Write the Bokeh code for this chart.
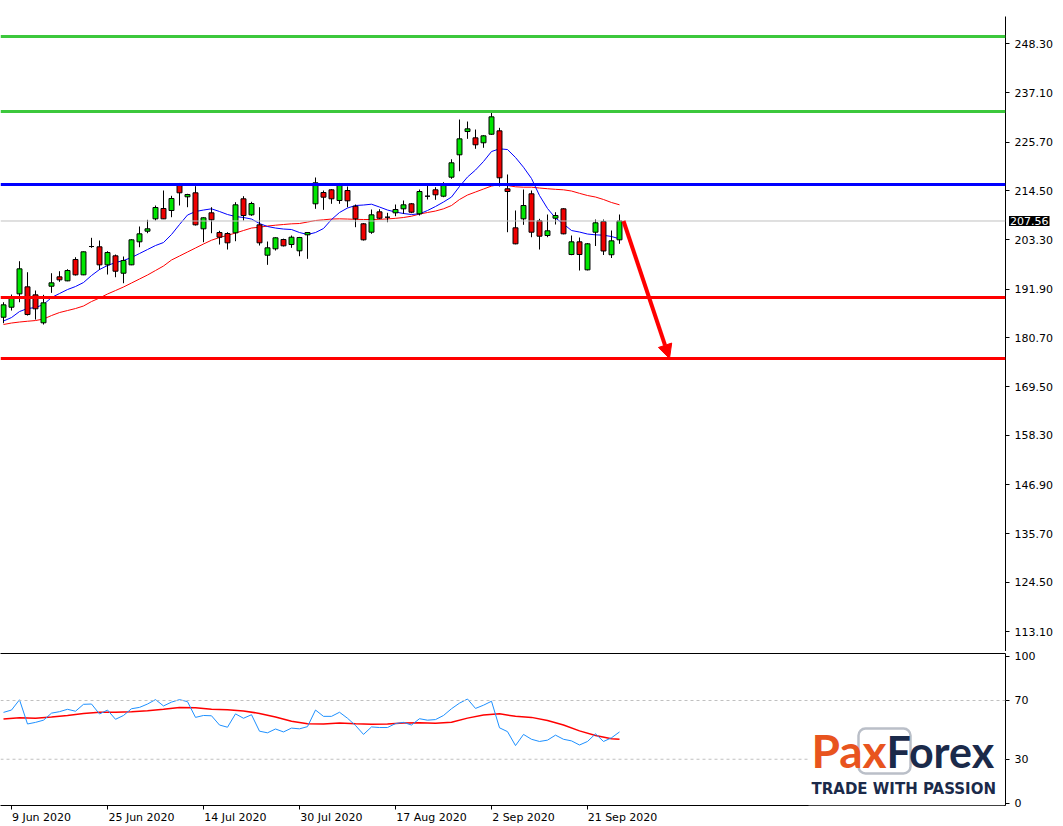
from bokeh.plotting import figure
from bokeh.models import (Range1d, FixedTicker, LinearAxis, Span, Label, BoxAnnotation,
                          PrintfTickFormatter, Arrow, NormalHead, ColumnDataSource)
from bokeh.layouts import column
from bokeh.embed import file_html
from bokeh.resources import INLINE

# ---------------- data (MSFT daily, 8 Jun - 25 Sep 2020) ----------------
dates = ["8 Jun", "9 Jun", "10 Jun", "11 Jun", "12 Jun", "15 Jun", "16 Jun", "17 Jun", "18 Jun", "19 Jun",
         "22 Jun", "23 Jun", "24 Jun", "25 Jun", "26 Jun", "29 Jun", "30 Jun", "1 Jul", "2 Jul", "6 Jul",
         "7 Jul", "8 Jul", "9 Jul", "10 Jul", "13 Jul", "14 Jul", "15 Jul", "16 Jul", "17 Jul", "20 Jul",
         "21 Jul", "22 Jul", "23 Jul", "24 Jul", "27 Jul", "28 Jul", "29 Jul", "30 Jul", "31 Jul", "3 Aug",
         "4 Aug", "5 Aug", "6 Aug", "7 Aug", "10 Aug", "11 Aug", "12 Aug", "13 Aug", "14 Aug", "17 Aug",
         "18 Aug", "19 Aug", "20 Aug", "21 Aug", "24 Aug", "25 Aug", "26 Aug", "27 Aug", "28 Aug", "31 Aug",
         "1 Sep", "2 Sep", "3 Sep", "4 Sep", "8 Sep", "9 Sep", "10 Sep", "11 Sep", "14 Sep", "15 Sep",
         "16 Sep", "17 Sep", "18 Sep", "21 Sep", "22 Sep", "23 Sep", "24 Sep", "25 Sep"]

opens = [185.43, 187.73, 190.81, 192.42, 190.58, 184.15, 192.56, 194.72, 193.80, 198.70,
         195.18, 201.69, 201.62, 197.48, 199.55, 195.55, 197.48, 202.77, 205.21, 208.06,
         210.43, 209.97, 216.11, 213.12, 214.04, 205.76, 209.44, 204.91, 204.68, 204.84,
         212.66, 208.98, 206.68, 199.69, 201.16, 203.30, 202.15, 200.70, 204.38, 211.51,
         214.11, 214.73, 212.27, 214.57, 210.96, 206.91, 204.98, 209.67, 208.43, 209.44,
         210.36, 211.51, 209.21, 213.26, 214.73, 213.26, 217.63, 222.78, 228.13, 226.68,
         225.54, 227.51, 228.29, 214.96, 205.99, 208.06, 213.81, 207.60, 204.22, 208.20,
         210.36, 199.85, 202.77, 196.33, 204.98, 207.44, 199.80, 203.23]
highs = [188.88, 190.65, 198.31, 195.78, 191.57, 190.58, 195.55, 196.01, 196.47, 199.23,
         200.55, 203.69, 203.07, 200.61, 199.85, 199.39, 203.40, 206.29, 207.83, 211.12,
         214.57, 213.35, 216.30, 213.81, 215.56, 208.40, 210.73, 205.30, 204.98, 211.88,
         213.26, 211.97, 210.73, 202.84, 203.80, 203.50, 204.22, 203.90, 205.00, 217.56,
         214.57, 214.90, 216.30, 215.49, 211.35, 207.10, 210.20, 210.27, 209.44, 211.35,
         212.27, 211.70, 214.80, 216.11, 215.33, 216.48, 221.76, 230.89, 230.43, 228.59,
         227.30, 232.73, 228.98, 218.25, 209.97, 214.80, 214.57, 208.06, 209.05, 209.58,
         210.50, 204.22, 203.76, 202.50, 207.90, 207.90, 205.37, 209.05]
lows = [184.05, 186.97, 188.88, 185.82, 184.90, 183.75, 191.04, 193.57, 193.71, 195.02,
        195.10, 201.39, 196.33, 195.25, 194.63, 193.25, 197.40, 201.53, 204.75, 207.67,
        208.00, 208.43, 211.12, 210.73, 206.52, 202.68, 204.75, 202.15, 201.00, 202.91,
        207.67, 208.75, 201.92, 197.48, 200.77, 201.70, 201.39, 199.46, 198.86, 210.36,
        210.13, 211.51, 211.51, 210.73, 206.13, 203.07, 204.61, 207.97, 207.28, 208.66,
        209.21, 209.35, 208.82, 212.50, 212.43, 213.03, 217.26, 219.00, 226.45, 224.16,
        224.39, 227.37, 215.49, 204.98, 202.20, 206.68, 203.83, 201.00, 203.83, 206.75,
        204.50, 199.70, 196.17, 196.20, 201.81, 199.74, 199.05, 202.31]
closes = [188.28, 189.89, 196.56, 186.05, 187.37, 188.74, 193.34, 194.03, 196.17, 195.18,
          200.47, 201.69, 197.48, 200.31, 196.01, 198.47, 203.23, 204.61, 205.76, 210.66,
          208.06, 212.73, 214.04, 213.65, 206.68, 208.29, 207.83, 203.83, 202.54, 211.28,
          208.82, 211.58, 202.54, 201.39, 203.69, 201.85, 203.83, 203.76, 204.91, 216.34,
          213.03, 212.66, 216.11, 212.20, 208.06, 203.23, 208.98, 208.20, 208.43, 210.20,
          211.28, 209.58, 214.34, 213.26, 213.58, 216.11, 220.94, 226.45, 228.75, 225.08,
          227.14, 231.51, 217.49, 214.34, 202.31, 211.12, 204.98, 204.06, 205.30, 208.82,
          204.61, 202.77, 199.85, 202.31, 207.14, 200.66, 203.00, 207.56]

ma_fast = [184.56, 185.36, 186.74, 187.43, 187.66, 188.35, 189.96, 190.88, 191.80, 192.49,
           193.41, 195.02, 196.40, 197.32, 198.01, 198.47, 199.16, 200.08, 201.00, 201.92,
           202.61, 204.45, 206.75, 208.93, 209.74, 210.08, 210.36, 209.74, 209.05, 208.59,
           208.36, 208.01, 206.98, 206.29, 205.94, 205.71, 205.60, 204.91, 204.45, 204.91,
           205.83, 207.90, 209.51, 210.54, 211.12, 211.23, 211.42, 210.77, 210.08, 209.62,
           209.28, 209.05, 209.21, 209.97, 210.89, 211.92, 213.07, 215.49, 217.67, 219.28,
           221.24, 223.53, 224.16, 223.99, 222.16, 219.92, 217.33, 213.42, 210.43, 208.24,
           206.86, 205.37, 205.02, 204.56, 204.38, 204.29, 203.99, 203.46]
ma_slow = [183.76, 184.10, 184.33, 184.51, 184.67, 185.02, 185.82, 186.51, 186.97, 187.43,
           188.01, 189.04, 189.85, 190.77, 191.57, 192.38, 193.30, 194.22, 195.14, 196.17,
           197.21, 198.59, 199.51, 200.43, 201.35, 202.27, 203.14, 203.76, 204.27, 204.79,
           205.37, 205.94, 206.13, 206.40, 206.59, 206.75, 206.91, 206.98, 207.32, 207.67,
           207.83, 208.01, 208.06, 208.01, 207.94, 207.90, 207.90, 207.94, 208.04, 208.17,
           208.36, 208.66, 209.16, 209.51, 209.85, 210.36, 211.12, 212.50, 213.53, 214.22,
           214.91, 215.60, 215.95, 215.72, 215.42, 215.33, 215.33, 215.14, 214.98, 214.84,
           214.73, 214.45, 213.92, 213.42, 213.07, 212.50, 211.81, 211.28]

rsi = [61.9, 63.5, 70.5, 54.0, 55.1, 56.6, 61.4, 62.4, 64.0, 62.7,
       67.4, 67.6, 60.8, 63.5, 57.2, 59.8, 64.4, 65.3, 67.6, 70.6,
       66.3, 68.9, 70.6, 69.2, 58.5, 59.8, 59.6, 53.3, 51.8, 60.9,
       57.9, 60.3, 49.1, 48.0, 50.6, 48.6, 51.2, 50.7, 52.2, 63.5,
       59.2, 59.2, 62.0, 57.9, 53.0, 46.9, 52.0, 51.6, 51.6, 54.3,
       55.1, 53.3, 57.6, 56.6, 57.0, 59.8, 64.4, 68.2, 71.0, 64.6,
       66.8, 69.5, 51.4, 48.8, 39.3, 46.9, 43.6, 42.1, 43.0, 46.4,
       43.6, 42.5, 39.7, 42.1, 47.3, 42.1, 44.6, 48.6]
rsi_ma_bars = [0, 2, 4, 6, 8, 10, 12, 14, 16, 18, 20, 22, 24, 26, 28, 30, 32, 34, 36, 38,
               40, 42, 44, 46, 48, 50, 52, 54, 56, 58, 60, 62, 64, 66, 68, 70, 72, 74, 76, 77]
rsi_ma = [57.4, 58.3, 57.9, 58.7, 59.8, 61.1, 62.0, 62.0, 62.4, 63.1,
          64.0, 65.2, 65.0, 64.1, 63.7, 62.9, 61.2, 58.8, 55.9, 54.1,
          54.0, 54.6, 54.2, 53.9, 54.0, 54.6, 54.8, 54.5, 55.2, 58.0,
          60.1, 60.9, 59.2, 58.5, 56.4, 53.3, 49.3, 46.2, 43.9, 43.6]

resistance_levels = [249.98, 232.73]
pivot_levels = [215.95]
support_levels = [189.96, 175.93]
current_price = 207.56
rsi_levels = [70, 30]

price_ticks = [248.30, 237.10, 225.70, 214.50, 203.30, 191.90, 180.70, 169.50,
               158.30, 146.90, 135.70, 124.50, 113.10]
rsi_ticks = [0, 30, 70, 100]
date_tick_bars = [1, 13, 25, 37, 49, 61, 73]
date_tick_labels = ["9 Jun 2020", "25 Jun 2020", "14 Jul 2020", "30 Jul 2020",
                    "17 Aug 2020", "2 Sep 2020", "21 Sep 2020"]

# forecast arrow: from last close towards the lower support
arrow_bars = [77.5, 83.25]
arrow_prices = [closes[-1], support_levels[1]]

# ---------------- styling ----------------
FONT = "DejaVu Sans"
BULL = "#00E600"
BEAR = "#F00000"
W = 1063
RIGHT = 58
TOP = 16
BAR_PX = 8.0
X_START, X_END = -0.375, 125.25

n = len(closes)
xs = list(range(n))
src = ColumnDataSource(dict(
    x=xs, o=opens, h=highs, l=lows, c=closes,
    top=[max(a, b) for a, b in zip(opens, closes)],
    bottom=[min(a, b) for a, b in zip(opens, closes)],
    color=[BULL if c >= o else BEAR for o, c in zip(opens, closes)],
))

x_range = Range1d(X_START, X_END)


def right_axis(ticks):
    ax = LinearAxis(ticker=FixedTicker(ticks=ticks))
    ax.axis_line_color = "black"
    ax.major_tick_out = 4
    ax.major_tick_in = 0
    ax.minor_tick_out = 0
    ax.minor_tick_in = 0
    ax.major_label_standoff = 5
    ax.major_label_text_font = FONT
    ax.major_label_text_font_size = "11px"
    ax.major_label_text_color = "black"
    return ax


def border_axis():
    return LinearAxis(ticker=FixedTicker(ticks=[]), major_tick_out=0, major_tick_in=0,
                      minor_tick_out=0, minor_tick_in=0, major_label_standoff=0,
                      major_label_text_font_size="0px", axis_line_color="black")


# ---------------- price panel ----------------
p = figure(width=W, height=651, x_range=x_range, y_range=Range1d(108.57, 254.58),
           output_backend="svg", toolbar_location=None,
           x_axis_location=None, y_axis_location=None,
           min_border_left=0, min_border_right=RIGHT, min_border_top=TOP, min_border_bottom=0,
           background_fill_color="white", border_fill_color="white", outline_line_color=None)
p.xgrid.visible = False
p.ygrid.visible = False
pax = right_axis(price_ticks)
pax.formatter = PrintfTickFormatter(format="%.2f")
p.add_layout(pax, "right")
p.add_layout(border_axis(), "below")

p.add_layout(Span(location=current_price, dimension="width", line_color="#C0C0C0", line_width=1))
for lv in resistance_levels:
    p.add_layout(Span(location=lv, dimension="width", line_color="#3CC83C", line_width=3))
for lv in pivot_levels:
    p.add_layout(Span(location=lv, dimension="width", line_color="#0000FF", line_width=3))
for lv in support_levels:
    p.add_layout(Span(location=lv, dimension="width", line_color="#FF0000", line_width=3))

p.line(xs, ma_slow, line_color="#FF0000", line_width=1)
p.line(xs, ma_fast, line_color="#0000FF", line_width=1)
p.segment(x0="x", y0="l", x1="x", y1="h", source=src, line_color="black", line_width=1)
p.vbar(x="x", width=0.62, top="top", bottom="bottom", source=src,
       fill_color="color", line_color="black", line_width=1)

p.add_layout(Arrow(end=NormalHead(size=14, fill_color="#FF0000", line_color="#FF0000"),
                   x_start=arrow_bars[0], y_start=arrow_prices[0],
                   x_end=arrow_bars[1], y_end=arrow_prices[1],
                   line_color="#FF0000", line_width=4))

# current price tag on the price scale (kept in a side panel so it is not clipped)
p.add_layout(Label(x=X_END + 3.5 / BAR_PX, y=current_price, text="%.2f" % current_price,
                   text_color="white", background_fill_color="black", text_font=FONT,
                   text_font_size="11px", text_baseline="middle", text_align="left",
                   padding=1), "above")

# ---------------- RSI panel ----------------
r = figure(width=W, height=175, x_range=x_range, y_range=Range1d(-1.5, 102),
           output_backend="svg", toolbar_location=None,
           x_axis_location=None, y_axis_location=None,
           min_border_left=0, min_border_right=RIGHT, min_border_top=2, min_border_bottom=20,
           background_fill_color="white", border_fill_color="white", outline_line_color=None)
r.xgrid.visible = False
r.ygrid.visible = False
r.add_layout(right_axis(rsi_ticks), "right")
r.add_layout(border_axis(), "above")

# date labels sit to the right of their tick, as in the terminal
CW = {"0": .636, "1": .636, "2": .636, "3": .636, "4": .636, "5": .636, "6": .636, "7": .636,
      "8": .636, "9": .636, " ": .318, "J": .295, "u": .634, "n": .634, "l": .278, "A": .684,
      "g": .635, "S": .635, "e": .615, "p": .635}
label_pos = []
for b, t in zip(date_tick_bars, date_tick_labels):
    wpx = sum(CW.get(ch, .6) for ch in t) * 11
    label_pos.append(b + round((0.5 + wpx / 2) / BAR_PX * 8) / 8)
xax = LinearAxis(ticker=FixedTicker(ticks=label_pos, minor_ticks=date_tick_bars))
xax.major_label_overrides = {pos: t for pos, t in zip(label_pos, date_tick_labels)}
xax.axis_line_color = "black"
xax.major_tick_out = 0
xax.major_tick_in = 0
xax.minor_tick_out = 4
xax.minor_tick_in = 0
xax.minor_tick_line_color = "black"
xax.major_label_standoff = 1
xax.major_label_text_font = FONT
xax.major_label_text_font_size = "11px"
xax.major_label_text_color = "black"
r.add_layout(xax, "below")

for lv in rsi_levels:
    r.add_layout(Span(location=lv, dimension="width", line_color="#C0C0C0",
                      line_width=1, line_dash="3 3"))
r.line(rsi_ma_bars, rsi_ma, line_color="#FF0000", line_width=1.5)
r.line(xs, rsi, line_color="#1E90FF", line_width=1)

# PaxForex logo (screen units measured from the panel's bottom-left corner)
r.add_layout(BoxAnnotation(left=808, right=1004, bottom=0, top=84,
                           left_units="screen", right_units="screen",
                           bottom_units="screen", top_units="screen",
                           fill_color="white", fill_alpha=1.0, line_color=None))
r.add_layout(BoxAnnotation(left=858, right=910, bottom=32, top=77,
                           left_units="screen", right_units="screen",
                           bottom_units="screen", top_units="screen",
                           fill_color=None, line_color="#1B2A4A", line_width=2.5,
                           border_radius=7))
r.add_layout(Label(x=811, y=55, x_units="screen", y_units="screen", text="Pax",
                   text_font="Lato", text_font_style="bold", text_font_size="46px",
                   text_color="#E8541E", text_baseline="alphabetic"))
r.add_layout(Label(x=886, y=54, x_units="screen", y_units="screen", text="Forex",
                   text_font="Lato", text_font_style="bold", text_font_size="43px",
                   text_color="#1B2A4A", text_baseline="alphabetic"))
r.add_layout(Label(x=811, y=17, x_units="screen", y_units="screen", text="TRADE WITH PASSION",
                   text_font=FONT, text_font_style="bold", text_font_size="15px",
                   text_color="#1B2A4A", text_baseline="alphabetic"))

layout = column(p, r, spacing=0)
open("out.html", "w").write(file_html(layout, INLINE))
